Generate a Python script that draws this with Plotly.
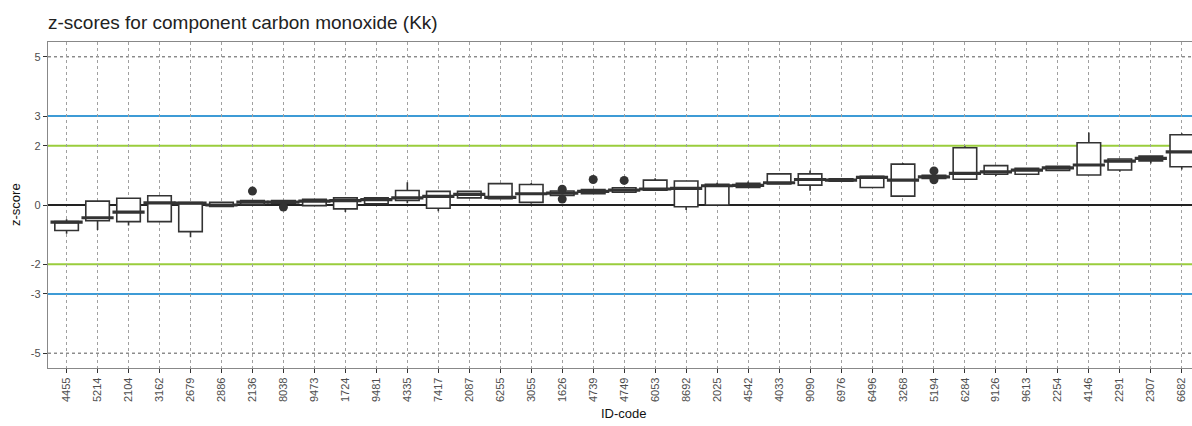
import plotly.graph_objects as go

ids = ["4455", "5214", "2104", "3162", "2679", "2886", "2136", "8038", "9473", "1724",
       "9481", "4335", "7417", "2087", "6255", "3055", "1626", "4739", "4749", "6053",
       "8692", "2025", "4542", "4033", "9090", "6976", "6496", "3268", "5194", "6284",
       "9126", "9613", "2254", "4146", "2291", "2307", "6682"]
q1 = [-0.86, -0.53, -0.56, -0.56, -0.90, -0.05, 0.01, 0.06, -0.02, -0.13,
      0.04, 0.15, -0.11, 0.24, 0.21, 0.09, 0.32, 0.38, 0.43, 0.50,
      -0.06, 0.00, 0.59, 0.71, 0.67, 0.80, 0.59, 0.30, 0.90, 0.87,
      1.04, 1.04, 1.17, 1.01, 1.18, 1.49, 1.29]
median = [-0.58, -0.43, -0.24, 0.07, 0.06, 0.00, 0.10, 0.10, 0.13, 0.15,
          0.18, 0.24, 0.29, 0.36, 0.26, 0.38, 0.40, 0.46, 0.50, 0.54,
          0.56, 0.65, 0.66, 0.75, 0.86, 0.84, 0.93, 0.84, 0.95, 1.07,
          1.12, 1.18, 1.25, 1.35, 1.48, 1.57, 1.79]
q3 = [-0.56, 0.13, 0.23, 0.31, 0.085, 0.095, 0.15, 0.15, 0.19, 0.24,
      0.24, 0.49, 0.46, 0.46, 0.72, 0.69, 0.47, 0.52, 0.58, 0.84,
      0.81, 0.70, 0.73, 1.05, 1.05, 0.88, 0.97, 1.38, 1.00, 1.93,
      1.33, 1.24, 1.31, 2.10, 1.55, 1.65, 2.37]
lower = [-0.97, -0.84, -0.69, -0.56, -1.09, -0.07, 0.00, 0.04, -0.03, -0.24,
         0.03, 0.06, -0.21, 0.23, 0.20, 0.04, 0.30, 0.37, 0.42, 0.49,
         -0.17, -0.01, 0.58, 0.70, 0.48, 0.79, 0.58, 0.29, 0.89, 0.86,
         0.98, 1.03, 1.16, 1.00, 1.12, 1.40, 1.20]
upper = [-0.48, 0.13, 0.25, 0.33, 0.09, 0.10, 0.16, 0.17, 0.20, 0.25,
         0.25, 0.77, 0.47, 0.47, 0.73, 0.74, 0.48, 0.53, 0.59, 0.90,
         0.82, 0.75, 0.79, 1.06, 1.16, 0.89, 0.98, 1.42, 1.01, 1.98,
         1.34, 1.25, 1.32, 2.45, 1.56, 1.66, 2.42]

outlier_ids = ["2136", "8038", "1626", "1626", "4739", "4749", "5194", "5194"]
outlier_vals = [0.47, -0.07, 0.53, 0.20, 0.86, 0.83, 1.15, 0.85]

ytick_vals = [-5, -3, -2, 0, 2, 3, 5]
ytick_text = ["-5", "-3", "-2", "0", "2", "3", "5"]
grid_vals = [-5, 5]
limit_vals = [3, -3, 2, -2]
limit_colors = ["#3d9bd6", "#3d9bd6", "#9acd3c", "#9acd3c"]

box_col = "#333333"

fig = go.Figure()
fig.add_trace(go.Box(
    x=ids, q1=q1, median=median, q3=q3, lowerfence=lower, upperfence=upper,
    fillcolor="white", line=dict(color=box_col, width=1.6), whiskerwidth=0,
    width=0.76, boxpoints=False, showlegend=False, hoverinfo="skip",
))
fig.add_trace(go.Scatter(
    x=ids, y=median, mode="markers",
    marker=dict(symbol="line-ew", size=23, line=dict(color=box_col, width=3.2)),
    showlegend=False, hoverinfo="skip",
))
fig.add_trace(go.Scatter(
    x=outlier_ids, y=outlier_vals, mode="markers",
    marker=dict(symbol="circle", size=9, color=box_col),
    showlegend=False, hoverinfo="skip",
))

for v in grid_vals:
    fig.add_shape(type="line", xref="x domain", yref="y", x0=0, x1=1, y0=v, y1=v,
                  line=dict(color="#555555", width=1, dash="dot"), layer="below")
for v, c in zip(limit_vals, limit_colors):
    fig.add_shape(type="line", xref="x domain", yref="y", x0=0, x1=1, y0=v, y1=v,
                  line=dict(color=c, width=2), layer="below")

font_family = "Liberation Sans, Arial, sans-serif"
fig.update_layout(
    width=1192, height=426,
    margin=dict(l=48, r=0, t=42, b=58),
    paper_bgcolor="white", plot_bgcolor="white",
    font=dict(family=font_family, color="#222222"),
    title=dict(text="z-scores for component carbon monoxide (Kk)",
               font=dict(size=19, color="#222222", family=font_family),
               xref="paper", x=0, xanchor="left",
               yref="container", y=1 - 22 / 426, yanchor="middle"),
    xaxis=dict(
        type="category", categoryorder="array", categoryarray=ids,
        range=[-0.6, 36.33],
        showgrid=True, gridcolor="#a0a0a0", griddash="dot", gridwidth=1,
        showline=True, linecolor="#888888", linewidth=1.3, mirror=True,
        ticks="outside", ticklen=4, tickcolor="#333333", tickwidth=1,
        tickangle=-90, tickfont=dict(size=11, color="#4d4d4d"),
        zeroline=False,
    ),
    yaxis=dict(
        range=[-5.5, 5.5],
        tickmode="array", tickvals=ytick_vals, ticktext=ytick_text,
        showgrid=False,
        showline=True, linecolor="#888888", linewidth=1.3, mirror=True,
        ticks="outside", ticklen=4, tickcolor="#333333", tickwidth=1,
        tickfont=dict(size=11, color="#4d4d4d"),
        zeroline=True, zerolinecolor="#222222", zerolinewidth=1.6,
    ),
    annotations=[
        dict(text="z-score", xref="paper", yref="paper", x=0, y=0.5,
             xshift=-33, textangle=-90, showarrow=False,
             font=dict(size=13, color="#111111"), xanchor="center", yanchor="middle"),
        dict(text="ID-code", xref="paper", yref="paper", x=0.5, y=0,
             xshift=4, yshift=-45, showarrow=False,
             font=dict(size=13, color="#111111"), xanchor="center", yanchor="middle"),
    ],
)

fig.write_html("out.html")
